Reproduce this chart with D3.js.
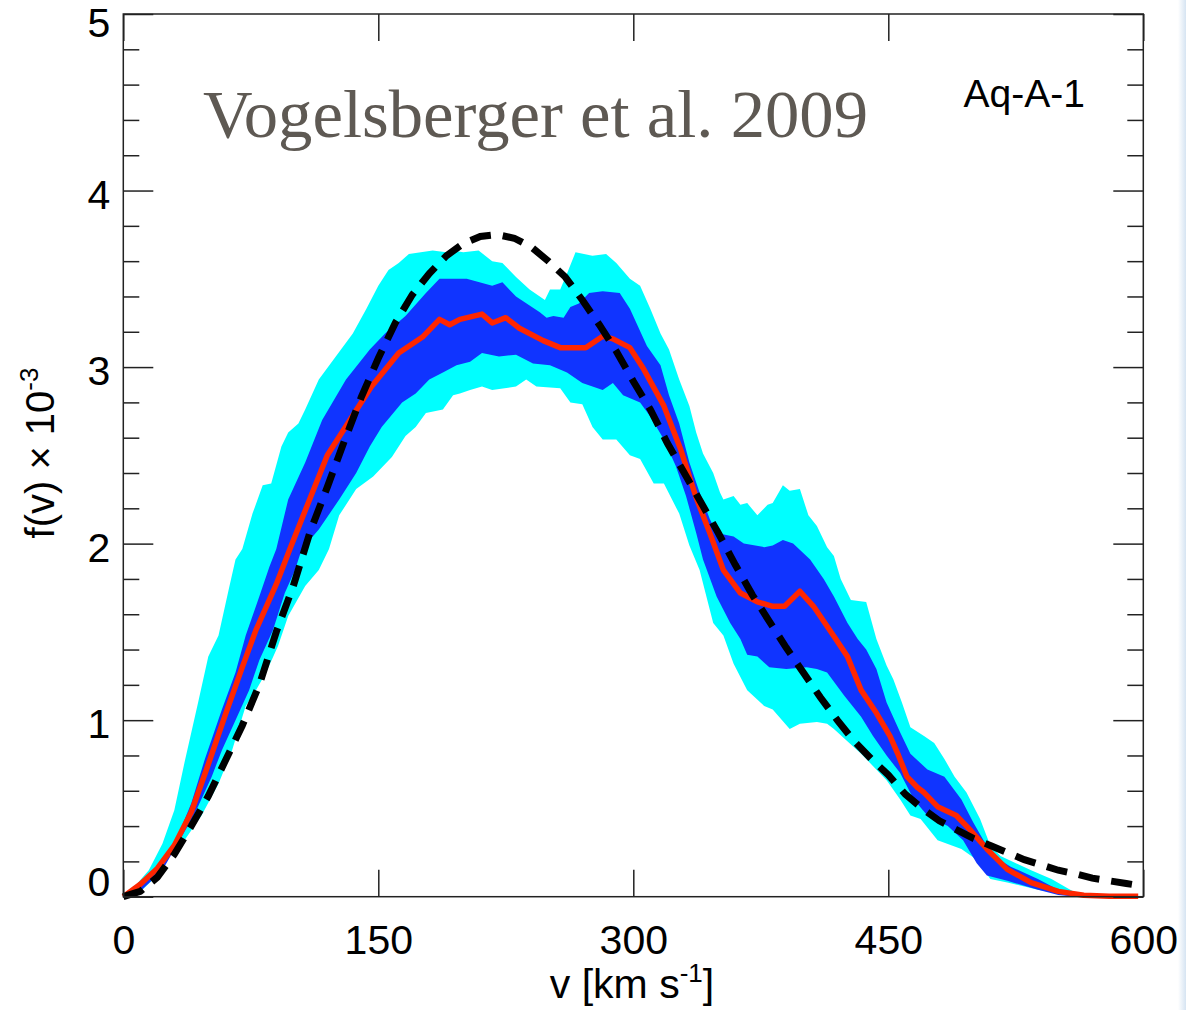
<!DOCTYPE html>
<html>
<head>
<meta charset="utf-8">
<script src="https://cdn.jsdelivr.net/npm/d3@7"></script>
<style>
  body { margin: 0; background: #fff; }
  svg text { font-family: "Liberation Sans", Arial, Helvetica, sans-serif; fill: #000; }
</style>
</head>
<body>
<div id="vis"></div>
<script>
// velocity distribution, Aq-A-1 (v in km/s, f in 1e-3)

const xTicks = [0, 150, 300, 450, 600]
const yTicks = [0, 1, 2, 3, 4, 5]

// outer (cyan) band edges
const cyanUpper = [[0,0],[5,0.04],[15,0.15],[23,0.30],[30,0.49],[36,0.76],[44,1.10],[50,1.36],[56,1.48],[62,1.74],[66,1.91],[70,1.97],[76,2.17],[82,2.33],[87,2.34],[93,2.55],[97,2.63],[103,2.68],[107,2.76],[115,2.93],[125,3.06],[135,3.19],[143,3.33],[150,3.46],[156,3.55],[162,3.59],[168,3.64],[182,3.66],[190,3.65],[194,3.66],[200,3.65],[209,3.66],[217,3.60],[223,3.59],[231,3.51],[239,3.44],[248,3.38],[251,3.44],[257,3.44],[261,3.53],[266,3.65],[276,3.63],[284,3.64],[290,3.59],[298,3.50],[304,3.46],[310,3.33],[316,3.19],[321,3.10],[327,2.93],[333,2.78],[337,2.63],[341,2.51],[347,2.40],[351,2.29],[353,2.25],[359,2.27],[363,2.22],[367,2.23],[373,2.16],[379,2.22],[382,2.23],[388,2.33],[392,2.30],[398,2.31],[403,2.16],[408,2.10],[414,1.98],[418,1.93],[422,1.80],[428,1.68],[437,1.67],[443,1.46],[449,1.31],[453,1.23],[458,1.10],[463,0.96],[471,0.91],[477,0.87],[483,0.78],[489,0.68],[496,0.59],[504,0.44],[510,0.29],[516,0.23],[534,0.15],[546,0.10],[557,0.04],[565,0.0]]
const cyanLower = [[0,0],[9,0.02],[19,0.11],[27,0.23],[36,0.32],[46,0.46],[56,0.64],[64,0.83],[72,1.08],[78,1.17],[84,1.27],[91,1.42],[97,1.59],[107,1.76],[115,1.85],[121,1.97],[127,2.16],[137,2.31],[147,2.38],[158,2.49],[166,2.61],[172,2.66],[178,2.74],[188,2.76],[194,2.84],[198,2.85],[204,2.87],[211,2.89],[217,2.87],[231,2.89],[237,2.93],[243,2.89],[257,2.88],[263,2.80],[270,2.79],[276,2.66],[282,2.59],[290,2.59],[298,2.50],[304,2.48],[312,2.34],[318,2.34],[327,2.17],[333,1.99],[339,1.85],[347,1.55],[353,1.48],[359,1.32],[367,1.17],[377,1.08],[382,1.06],[392,0.95],[398,0.98],[408,0.99],[414,0.98],[418,0.95],[434,0.81],[449,0.66],[457,0.55],[463,0.46],[469,0.44],[479,0.32],[493,0.27],[502,0.21],[510,0.10],[520,0.08],[538,0.04],[555,0.01],[565,0.0]]

// inner (blue) band edges
const blueUpper = [[0,0],[9,0.06],[21,0.17],[31,0.32],[40,0.53],[48,0.78],[58,1.06],[66,1.27],[72,1.48],[80,1.70],[86,1.87],[90,1.97],[97,2.25],[107,2.46],[117,2.70],[131,2.93],[145,3.10],[154,3.19],[166,3.29],[178,3.42],[186,3.50],[202,3.50],[217,3.46],[223,3.48],[231,3.40],[245,3.31],[249,3.28],[253,3.29],[259,3.28],[263,3.34],[268,3.36],[274,3.42],[282,3.43],[292,3.42],[298,3.33],[308,3.12],[316,3.01],[321,2.84],[327,2.68],[333,2.46],[339,2.29],[345,2.14],[349,2.06],[359,2.04],[365,2.00],[377,1.98],[382,1.99],[388,2.02],[394,2.00],[404,1.91],[412,1.80],[418,1.70],[426,1.55],[432,1.46],[437,1.40],[443,1.29],[449,1.10],[457,0.93],[463,0.81],[473,0.72],[483,0.68],[493,0.55],[500,0.42],[506,0.32],[512,0.23],[522,0.17],[538,0.10],[550,0.04],[562,0.0]]
const blueLower = [[0,0],[11,0.04],[23,0.15],[32,0.30],[42,0.47],[52,0.68],[58,0.83],[66,1.00],[74,1.17],[80,1.34],[88,1.51],[95,1.72],[101,1.85],[105,1.97],[115,2.08],[127,2.25],[137,2.40],[145,2.55],[152,2.66],[164,2.80],[172,2.85],[180,2.93],[188,2.97],[196,3.01],[204,3.03],[211,3.08],[221,3.06],[231,3.07],[241,3.02],[251,3.01],[261,2.97],[270,2.91],[282,2.87],[288,2.91],[294,2.84],[304,2.80],[310,2.72],[318,2.59],[325,2.44],[331,2.27],[337,2.06],[341,1.91],[349,1.70],[357,1.55],[363,1.46],[367,1.37],[373,1.36],[380,1.30],[390,1.29],[402,1.30],[408,1.29],[414,1.27],[424,1.14],[434,1.02],[441,0.91],[449,0.80],[457,0.70],[465,0.55],[473,0.46],[485,0.40],[494,0.32],[502,0.19],[508,0.12],[520,0.09],[538,0.04],[550,0.01],[560,0.0]]

// median (red)
const median = [[0,0],[10,0.07],[20,0.16],[30,0.29],[40,0.48],[50,0.75],[60,1.03],[70,1.30],[78,1.51],[90,1.77],[98,1.97],[110,2.26],[120,2.50],[132,2.68],[146,2.89],[162,3.08],[176,3.17],[186,3.27],[192,3.24],[198,3.27],[211,3.30],[217,3.25],[225,3.28],[233,3.22],[247,3.15],[257,3.11],[272,3.11],[282,3.175],[288,3.16],[298,3.11],[306,2.99],[318,2.78],[328,2.53],[337,2.26],[345,2.06],[353,1.85],[363,1.72],[373,1.67],[382,1.645],[389,1.645],[398,1.73],[406,1.645],[418,1.475],[426,1.36],[434,1.17],[443,1.04],[451,0.91],[456,0.80],[461,0.68],[467,0.62],[471,0.59],[479,0.51],[490,0.46],[498,0.38],[508,0.27],[520,0.155],[534,0.08],[550,0.03],[565,0.008],[580,0.003],[597,0.002]]

// best fit (dashed black)
const bestFit = [[0,0],[10,0.03],[20,0.11],[30,0.24],[40,0.40],[50,0.57],[60,0.77],[70,0.97],[80,1.20],[90,1.50],[100,1.76],[110,2.07],[120,2.32],[130,2.58],[140,2.83],[150,3.05],[160,3.25],[170,3.41],[180,3.53],[190,3.63],[200,3.70],[210,3.74],[220,3.75],[230,3.73],[240,3.68],[250,3.60],[260,3.51],[270,3.38],[280,3.24],[290,3.09],[300,2.92],[310,2.76],[320,2.57],[330,2.40],[340,2.23],[350,2.06],[360,1.88],[370,1.71],[380,1.56],[390,1.41],[400,1.27],[410,1.13],[420,1.00],[430,0.88],[440,0.78],[450,0.69],[460,0.58],[470,0.50],[480,0.43],[490,0.38],[500,0.33],[510,0.29],[520,0.25],[530,0.21],[540,0.18],[550,0.15],[560,0.13],[570,0.105],[580,0.09],[590,0.075],[600,0.06]]

;(function() {
  const svg_width = 1186,
        svg_height = 1010,
        svg = d3.select('#vis').append('svg')

  svg.attr('width', svg_width)
    .attr('height', svg_height)

  const left = 123.3, right = 1143.3, top = 14, bottom = 896.7

  const x = d3.scaleLinear().domain([0, 600]).range([left, right])
  const y = d3.scaleLinear().domain([0, 5]).range([bottom, top])

  const line = d3.line().x(d => x(d[0])).y(d => y(d[1]))

  // window edge glare on the right (behind everything)
  const grad = svg.append('defs').append('linearGradient')
    .attr('id', 'edge').attr('x1', 0).attr('x2', 1)
  grad.append('stop').attr('offset', 0).attr('stop-color', '#ffffff')
  grad.append('stop').attr('offset', 1).attr('stop-color', '#d6e4f2')
  svg.append('rect')
    .attr('x', 1178).attr('y', 0)
    .attr('width', 8).attr('height', svg_height)
    .attr('fill', 'url(#edge)')

  // bands: upper edge forward, lower edge back
  const band = (up, lo) => line(up.concat(lo.slice().reverse())) + 'Z'

  svg.append('path')
    .attr('d', band(cyanUpper, cyanLower))
    .attr('fill', '#00ffff')

  svg.append('path')
    .attr('d', band(blueUpper, blueLower))
    .attr('fill', '#1034ff')

  svg.append('path')
    .attr('d', line(median))
    .attr('fill', 'none')
    .attr('stroke', '#ff2600')
    .attr('stroke-width', 5.5)
    .attr('stroke-linejoin', 'round')

  svg.append('path')
    .attr('d', line(bestFit))
    .attr('fill', 'none')
    .attr('stroke', '#000')
    .attr('stroke-width', 7)
    .attr('stroke-dasharray', '21,12')

  // ---- axes (ticks point inward on all four sides)
  const minorY = d3.range(0, 5.001, 0.2).filter(v => Math.abs(v - Math.round(v)) > 1e-6)

  const axStyle = g => {
    g.selectAll('.domain').remove()
    g.selectAll('.tick line').attr('stroke', '#222').attr('stroke-width', 1.5)
  }

  svg.append('g')
    .attr('transform', `translate(0,${bottom})`)
    .call(d3.axisBottom(x).tickValues(xTicks).tickSize(-27).tickPadding(11).tickFormat(d3.format('d')))
    .call(axStyle)
    .call(g => g.selectAll('text').attr('font-size', 41).attr('dy', '0.78em').attr('y', 25))

  svg.append('g')
    .attr('transform', `translate(0,${top})`)
    .call(d3.axisTop(x).tickValues(xTicks).tickSize(-27).tickFormat(''))
    .call(axStyle)

  // 0 sits on the axis, 5 nudged down to stay inside the page
  svg.append('g')
    .attr('transform', `translate(${left},0)`)
    .call(d3.axisLeft(y).tickValues(yTicks).tickSize(-30).tickPadding(13).tickFormat(d3.format('d')))
    .call(axStyle)
    .call(g => g.selectAll('text').attr('font-size', 41)
      .attr('dy', d => d === 0 ? '-0.02em' : d === 5 ? '0.56em' : '0.43em'))

  svg.append('g')
    .attr('transform', `translate(${left},0)`)
    .call(d3.axisLeft(y).tickValues(minorY).tickSize(-16).tickFormat(''))
    .call(axStyle)

  svg.append('g')
    .attr('transform', `translate(${right},0)`)
    .call(d3.axisRight(y).tickValues(yTicks).tickSize(-30).tickFormat(''))
    .call(axStyle)

  svg.append('g')
    .attr('transform', `translate(${right},0)`)
    .call(d3.axisRight(y).tickValues(minorY).tickSize(-16).tickFormat(''))
    .call(axStyle)

  // frame
  svg.append('rect')
    .attr('x', left).attr('y', top)
    .attr('width', right - left).attr('height', bottom - top)
    .attr('fill', 'none')
    .attr('stroke', '#222')
    .attr('stroke-width', 1.5)

  // ---- labels
  const xl = svg.append('text')
    .attr('x', 632).attr('y', 998)
    .attr('text-anchor', 'middle')
    .attr('font-size', 41)
  xl.append('tspan').text('v [km s')
  xl.append('tspan').attr('dy', -16).attr('font-size', 26).text('-1')
  xl.append('tspan').attr('dy', 16).text(']')

  const yl = svg.append('text')
    .attr('transform', 'translate(54,453) rotate(-90)')
    .attr('text-anchor', 'middle')
    .attr('font-size', 40)
  yl.append('tspan').text('f(v) \u00d7 10')
  yl.append('tspan').attr('dy', -16).attr('font-size', 26).text('-3')

  svg.append('text')
    .attr('x', 1085).attr('y', 107)
    .attr('text-anchor', 'end')
    .attr('font-size', 39)
    .text('Aq-A-1')

  svg.append('text')
    .attr('x', 203).attr('y', 137)
    .attr('font-size', 68)
    .attr('textLength', 665)
    .attr('lengthAdjust', 'spacingAndGlyphs')
    .style('font-family', '"Liberation Serif", "DejaVu Serif", serif')
    .style('fill', '#5e5953')
    .text('Vogelsberger et al. 2009')

}())
</script>
</body>
</html>
